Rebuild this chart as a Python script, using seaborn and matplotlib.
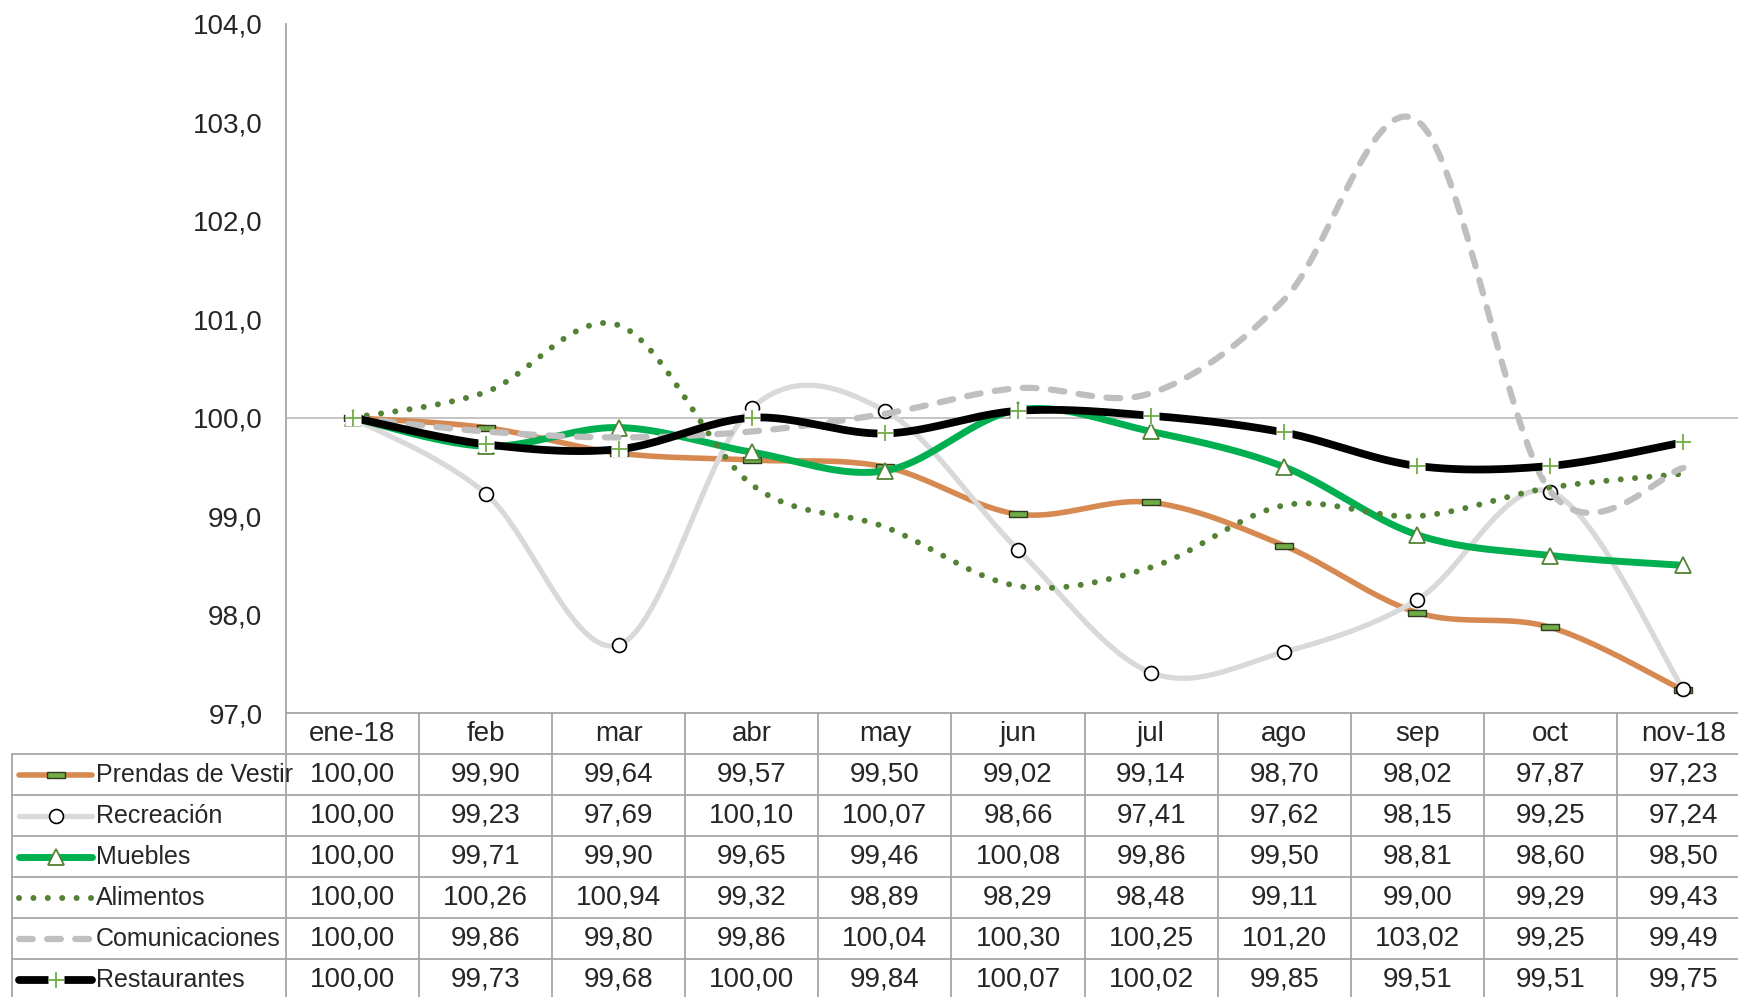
import numpy as np
import pandas as pd
import matplotlib
matplotlib.use("Agg")
import matplotlib.pyplot as plt
import seaborn as sns
from matplotlib import font_manager

# ---------------- data ----------------
months = ["ene-18", "feb", "mar", "abr", "may", "jun", "jul", "ago", "sep", "oct", "nov-18"]
prendas = [100.00, 99.90, 99.64, 99.57, 99.50, 99.02, 99.14, 98.70, 98.02, 97.87, 97.23]
recreacion = [100.00, 99.23, 97.69, 100.10, 100.07, 98.66, 97.41, 97.62, 98.15, 99.25, 97.24]
muebles = [100.00, 99.71, 99.90, 99.65, 99.46, 100.08, 99.86, 99.50, 98.81, 98.60, 98.50]
alimentos = [100.00, 100.26, 100.94, 99.32, 98.89, 98.29, 98.48, 99.11, 99.00, 99.29, 99.43]
comunicaciones = [100.00, 99.86, 99.80, 99.86, 100.04, 100.30, 100.25, 101.20, 103.02, 99.25, 99.49]
restaurantes = [100.00, 99.73, 99.68, 100.00, 99.84, 100.07, 100.02, 99.85, 99.51, 99.51, 99.75]
series_names = ["Prendas de Vestir", "Recreación", "Muebles", "Alimentos", "Comunicaciones", "Restaurantes"]
series_values = [prendas, recreacion, muebles, alimentos, comunicaciones, restaurantes]
y_ticks = [97, 98, 99, 100, 101, 102, 103, 104]

# ---------------- style ----------------
sns.set_style("white")
avail = {f.name for f in font_manager.fontManager.ttflist}
fam = [f for f in ["Liberation Sans Narrow", "Liberation Sans", "DejaVu Sans"] if f in avail]
plt.rcParams["font.family"] = fam
FS = 20
FS_NAME = 18
GRID = "#A6A6A6"

W, H = 1738, 997
fig = plt.figure(figsize=(W / 100, H / 100), dpi=100)

# pixel layout
x_left, x_right = 286, 1750
y_top, y_bot = 24, 713
ax = fig.add_axes([x_left / W, 1 - y_bot / H, (x_right - x_left) / W, (y_bot - y_top) / H])
ax.set_xlim(-0.5, 10.5)
ax.set_ylim(97, 104)

px_per_unit = (x_right - x_left) / 11.0
t_left = 11
t_xmin = -0.5 - (x_left - t_left) / px_per_unit
row_h = 41
n_rows = 7
t_bot = y_bot + n_rows * row_h
tax = fig.add_axes([t_left / W, 1 - t_bot / H, (x_right - t_left) / W, (t_bot - y_bot) / H])
tax.set_xlim(t_xmin, 10.5)
tax.set_ylim(n_rows, 0)
tax.axis("off")


def smooth(vals, n=24):
    """Excel-style smoothed line (Catmull-Rom Bezier) through the data points."""
    x = np.arange(len(vals), dtype=float)
    y = np.asarray(vals, dtype=float)
    xs, ys = [], []
    for i in range(len(y) - 1):
        i0 = max(i - 1, 0)
        i3 = min(i + 2, len(y) - 1)
        p0 = np.array([x[i0], y[i0]])
        p1 = np.array([x[i], y[i]])
        p2 = np.array([x[i + 1], y[i + 1]])
        p3 = np.array([x[i3], y[i3]])
        c1 = p1 + (p2 - p0) / 6.0
        c2 = p2 - (p3 - p1) / 6.0
        t = np.linspace(0, 1, n, endpoint=(i == len(y) - 2))[:, None]
        pts = (1 - t) ** 3 * p1 + 3 * (1 - t) ** 2 * t * c1 + 3 * (1 - t) * t ** 2 * c2 + t ** 3 * p2
        xs.append(pts[:, 0]); ys.append(pts[:, 1])
    return np.concatenate(xs), np.concatenate(ys)


rect = [(-1, -0.3), (1, -0.3), (1, 0.3), (-1, 0.3), (-1, -0.3)]
styles = [
    dict(color="#D68A52", lw=4.0, ls="-", marker=rect, ms=13, mfc="#70AD47", mec="#2E3B1F", mew=1.0),
    dict(color="#D9D9D9", lw=3.8, ls="-", marker="o", ms=10, mfc="white", mec="black", mew=1.2),
    dict(color="#00B050", lw=5.0, ls="-", marker="^", ms=11, mfc="white", mec="#548235", mew=1.3),
    dict(color="#548235", lw=4.3, ls=(0, (0.01, 2.4)), marker=None),
    dict(color="#BFBFBF", lw=4.5, ls=(0, (2.2, 2.3)), marker=None),
    dict(color="#000000", lw=5.6, ls="-", marker="+", ms=11, mfc="none", mec="#70AD47", mew=1.3),
]

ax.axhline(100, color="#BFBFBF", lw=1.3, zorder=1)

xi = np.arange(len(months))
for k, (name, vals, st) in enumerate(zip(series_names, series_values, styles)):
    sx, sy = smooth(vals)
    z = 3 + k
    sns.lineplot(x=sx, y=sy, ax=ax, color=st["color"], linewidth=st["lw"], sort=False,
                 estimator=None, zorder=z)
    ln = ax.lines[-1]
    ln.set_linestyle(st["ls"])
    ln.set_dash_capstyle("round")
    ln.set_solid_capstyle("butt")
    if st["marker"] is not None:
        if st["marker"] == "+":
            ax.plot(xi, vals, ls="none", marker="s", ms=st["ms"], mfc="white", mec="none", zorder=z + 0.3)
        ax.plot(xi, vals, ls="none", marker=st["marker"], ms=st["ms"], mfc=st["mfc"],
                mec=st["mec"], mew=st["mew"], zorder=z + 0.5)

# axes styling
ax.set_xticks([])
ax.set_yticks(y_ticks)
ax.set_yticklabels([f"{v:.1f}".replace(".", ",") for v in y_ticks], fontsize=FS)
ax.tick_params(axis="y", length=0, pad=17)
for s in ["top", "right", "bottom"]:
    ax.spines[s].set_visible(False)
ax.spines["left"].set_color(GRID)
ax.spines["left"].set_linewidth(1.3)
ax.set_xlabel(""); ax.set_ylabel("")

# ---------------- data table ----------------
lkw = dict(color=GRID, lw=1.3, clip_on=False)
tax.plot([-0.5, 10.5], [0, 0], **lkw)
for r in range(1, n_rows + 1):
    tax.plot([t_xmin + 0.01, 10.5], [r, r], **lkw)
tax.plot([t_xmin + 0.01, t_xmin + 0.01], [1, n_rows], **lkw)
for b in np.arange(-0.5, 10.6, 1.0):
    tax.plot([b, b], [0, n_rows], **lkw)

for i, m in enumerate(months):
    tax.text(i, 0.5, m, ha="center", va="center", fontsize=FS)

for r, (name, vals, st) in enumerate(zip(series_names, series_values, styles)):
    yc = r + 1.5
    for i, v in enumerate(vals):
        tax.text(i, yc, f"{v:.2f}".replace(".", ","), ha="center", va="center", fontsize=FS)
    # legend sample
    lx0 = t_xmin + (19 - t_left) / px_per_unit
    lx1 = t_xmin + (92 - t_left) / px_per_unit
    lxm = (lx0 + lx1) / 2
    ln, = tax.plot([lx0, lx1], [yc, yc], color=st["color"], lw=st["lw"], ls=st["ls"], clip_on=False)
    ln.set_dash_capstyle("round"); ln.set_solid_capstyle("round")
    if st["marker"] is not None:
        if st["marker"] == "+":
            tax.plot([lxm], [yc], ls="none", marker="s", ms=st["ms"], mfc="white", mec="none")
        tax.plot([lxm], [yc], ls="none", marker=st["marker"], ms=st["ms"], mfc=st["mfc"],
                 mec=st["mec"], mew=st["mew"])
    tax.text(t_xmin + (96 - t_left) / px_per_unit, yc, name, ha="left", va="center", fontsize=FS_NAME)

fig.savefig("out.png", dpi=100)
